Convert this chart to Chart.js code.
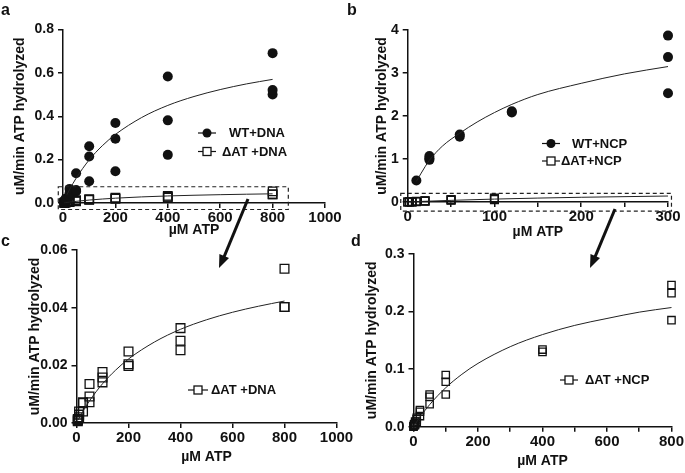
<!DOCTYPE html>
<html>
<head>
<meta charset="utf-8">
<script src="https://cdn.jsdelivr.net/npm/chart.js@4.4.1/dist/chart.umd.min.js"></script>
<style>
  html, body { margin: 0; padding: 0; background: #fff; }
  #fig { position: relative; width: 685px; height: 473px; overflow: hidden; font-family: 'Liberation Sans', Arial, sans-serif; }
  #fig canvas { position: absolute; left: 0; top: 0; }
  .tag { position: absolute; font-weight: bold; font-size: 16px; line-height: 16px; color: #111; }
  #arrows { position: absolute; left: 0; top: 0; }
</style>
</head>
<body>
<div id="fig">
  <canvas id="chartA" width="685" height="473"></canvas>
  <canvas id="chartB" width="685" height="473"></canvas>
  <canvas id="chartC" width="685" height="473"></canvas>
  <canvas id="chartD" width="685" height="473"></canvas>
  <div class="tag" style="left:1px;top:2px">a</div>
  <div class="tag" style="left:347px;top:2px">b</div>
  <div class="tag" style="left:1px;top:233px">c</div>
  <div class="tag" style="left:351px;top:233px">d</div>
  <svg id="arrows" width="685" height="473">
    <line x1="248" y1="199" x2="224" y2="257" stroke="#111" stroke-width="3"/>
    <polygon points="219,268 229,258 219.4,254" fill="#111"/>
    <line x1="615" y1="209" x2="595" y2="257" stroke="#111" stroke-width="3"/>
    <polygon points="590,268 600,258 590.5,254" fill="#111"/>
  </svg>
</div>
<script>
// ATP concentrations (uM), replicate measurements
const dnaConc = [5, 5, 5, 10, 10, 10, 25, 25, 25, 50, 50, 50, 100, 100, 100, 200, 200, 200, 400, 400, 400, 800, 800, 800];
const wtDnaRate = [0.000, 0.005, 0.010, 0.010, 0.015, 0.020, 0.030, 0.045, 0.065, 0.053, 0.060, 0.137, 0.100, 0.214, 0.262, 0.146, 0.296, 0.369, 0.222, 0.381, 0.583, 0.500, 0.521, 0.691];
const datDnaRate = [0.0006, 0.0010, 0.0014, 0.0020, 0.0029, 0.0040, 0.0040, 0.0069, 0.0072, 0.0072, 0.0092, 0.0135, 0.0141, 0.0158, 0.0177, 0.0198, 0.0204, 0.0248, 0.0252, 0.0285, 0.0329, 0.0402, 0.0402, 0.0535];

const wtDnaFitX = [15, 25, 50, 100, 150, 200, 300, 400, 500, 600, 700, 800];
const wtDnaFitY = [0.038, 0.062, 0.114, 0.199, 0.264, 0.316, 0.394, 0.450, 0.491, 0.523, 0.549, 0.570];
const datDnaFitX = [5, 10, 25, 50, 100, 150, 200, 300, 400, 500, 600, 700, 800];
const datDnaFitY = [0.0009, 0.0017, 0.0041, 0.0077, 0.0136, 0.0183, 0.0222, 0.0281, 0.0325, 0.0358, 0.0384, 0.0405, 0.0423];

const wtNcpConc = [10, 25, 25, 25, 60, 60, 120, 120, 300, 300, 300];
const wtNcpRate = [0.50, 0.98, 1.02, 1.07, 1.52, 1.57, 2.08, 2.11, 2.53, 3.37, 3.87];
const wtNcpFitX = [10, 20, 25, 40, 60, 80, 100, 120, 150, 200, 250, 300];
const wtNcpFitY = [0.48, 0.82, 0.97, 1.30, 1.60, 1.86, 2.08, 2.27, 2.50, 2.76, 2.98, 3.15];

const ncpConc = [0, 0, 2, 2, 5, 5, 5, 10, 10, 10, 20, 20, 20, 50, 50, 50, 100, 100, 100, 400, 400, 800, 800, 800];
const datNcpRate = [0.000, 0.001, 0.002, 0.004, 0.003, 0.006, 0.009, 0.0087, 0.0127, 0.0156, 0.0185, 0.026, 0.029, 0.039, 0.052, 0.056, 0.056, 0.078, 0.0898, 0.130, 0.134, 0.185, 0.232, 0.246];
const datNcpFitX = [2, 5, 10, 20, 50, 100, 150, 200, 300, 400, 500, 600, 700, 800];
const datNcpFitY = [0.0018, 0.0043, 0.0085, 0.0166, 0.0383, 0.0677, 0.091, 0.110, 0.139, 0.160, 0.176, 0.188, 0.199, 0.207];

// tick values
const ticksA_x = [0, 200, 400, 600, 800, 1000];
const ticksA_y = [0, 0.2, 0.4, 0.6, 0.8];
const ticksB_x = [0, 50, 100, 150, 200, 250, 300];
const ticksB_y = [0, 1, 2, 3, 4];
const ticksC_x = [0, 200, 400, 600, 800, 1000];
const ticksC_y = [0, 0.02, 0.04, 0.06];
const ticksD_x = [0, 100, 200, 300, 400, 500, 600, 700, 800];
const ticksD_y = [0, 0.1, 0.2, 0.3];

const FONT = "'Liberation Sans', Arial, sans-serif";
const INK = '#111';

function pts(xs, ys, maxX) {
    return xs.map((x, i) => ({ x: x, y: ys[i] })).filter(p => maxX === undefined || p.x <= maxX);
}

function fitLine(xs, ys) {
    return {
        data: pts(xs, ys), showLine: true, pointRadius: 0, borderColor: '#222',
        borderWidth: 1, cubicInterpolationMode: 'monotone', clip: false
    };
}

function dots(data) {
    return {
        data: data, pointStyle: 'circle', pointRadius: 5, pointBackgroundColor: INK,
        pointBorderColor: INK, pointBorderWidth: 0, showLine: false, clip: false
    };
}

function squares(data, r) {
    return {
        data: data, pointStyle: 'rect', pointRadius: r, pointBackgroundColor: 'rgba(0,0,0,0)',
        pointBorderColor: INK, pointBorderWidth: 1.3, showLine: false, clip: false
    };
}

function axis(horizontal, min, max, tickVals, fmt, tickSize) {
    return {
        type: 'linear', min: min, max: max,
        afterBuildTicks: s => { s.ticks = tickVals.map(v => ({ value: v })); },
        grid: { display: true, drawOnChartArea: false, drawTicks: true, tickLength: 5, color: INK, lineWidth: 1.5 },
        border: { display: true, color: INK, width: 1.5 },
        ticks: { color: INK, padding: horizontal ? 1 : 4, autoSkip: false, maxRotation: 0,
                 font: { family: FONT, size: tickSize, weight: 'bold' }, callback: fmt },
        title: { display: true, text: horizontal ? '\u00B5M ATP' : 'uM/min ATP hydrolyzed', color: INK, padding: 0,
                 font: { family: FONT, size: 14, weight: 'bold' } }
    };
}

// dashed zoom rectangle, in data units
const boxPlugin = {
    id: 'zoomBox',
    afterDraw(chart, args, opts) {
        if (!opts || opts.x0 === undefined) return;
        const { ctx, scales: { x, y } } = chart;
        const l = x.getPixelForValue(opts.x0), r = x.getPixelForValue(opts.x1);
        const t = y.getPixelForValue(opts.y1), b = y.getPixelForValue(opts.y0);
        ctx.save();
        ctx.setLineDash([4, 3]);
        ctx.strokeStyle = '#222';
        ctx.lineWidth = 1.2;
        ctx.strokeRect(l, t, r - l, b - t);
        ctx.restore();
    }
};

// hand-placed legend entries
const keyPlugin = {
    id: 'key',
    afterDraw(chart, args, opts) {
        const ctx = chart.ctx;
        ctx.save();
        (opts.items || []).forEach(it => {
            ctx.strokeStyle = INK;
            ctx.lineWidth = 1.2;
            ctx.beginPath();
            ctx.moveTo(it.mx - it.half, it.y);
            ctx.lineTo(it.mx + it.half, it.y);
            ctx.stroke();
            if (it.shape === 'circle') {
                ctx.fillStyle = INK;
                ctx.beginPath();
                ctx.arc(it.mx, it.y, 4.5, 0, Math.PI * 2);
                ctx.fill();
            } else {
                ctx.fillStyle = '#fff';
                ctx.fillRect(it.mx - 4, it.y - 4, 8, 8);
                ctx.lineWidth = 1.3;
                ctx.strokeRect(it.mx - 4, it.y - 4, 8, 8);
            }
            ctx.fillStyle = INK;
            ctx.font = 'bold 13px ' + FONT;
            ctx.textBaseline = 'middle';
            ctx.textAlign = 'left';
            ctx.fillText(it.text, it.tx, it.y + 0.5);
        });
        ctx.restore();
    }
};

// g: chart area + centre of the axis titles (page pixels)
function panel(id, g, datasets, xAxis, yAxis, box, keys) {
    const half = 8.4;
    const yWidth = g.left - (g.yTitleX - half);
    const xHeight = g.xTitleY + half - g.bottom;
    xAxis.afterFit = s => { s.height = xHeight; };
    yAxis.afterFit = s => { s.width = yWidth; };
    new Chart(document.getElementById(id), {
        type: 'scatter',
        data: { datasets: datasets },
        options: {
            responsive: false,
            animation: false,
            events: [],
            layout: {
                padding: {
                    left: g.yTitleX - half,
                    top: g.top,
                    right: 685 - g.right,
                    bottom: 473 - g.xTitleY - half
                }
            },
            scales: { x: xAxis, y: yAxis },
            plugins: {
                legend: { display: false },
                tooltip: { enabled: false },
                zoomBox: box || {},
                key: { items: keys }
            }
        },
        plugins: [boxPlugin, keyPlugin]
    });
}

const fmt1 = v => v.toFixed(1);
const fmt2 = v => v.toFixed(2);
const fmtInt = v => String(v);
const fmtHundreds = v => (v % 100 === 0 ? String(v) : '');
const fmtTwoHundreds = v => (v % 200 === 0 ? String(v) : '');

// a: WT vs dAT with DNA
panel('chartA',
    { left: 63, right: 325, top: 29.5, bottom: 203, yTitleX: 20, xTitleY: 230 },
    [fitLine(wtDnaFitX, wtDnaFitY), fitLine(datDnaFitX, datDnaFitY),
     dots(pts(dnaConc, wtDnaRate)), squares(pts(dnaConc, datDnaRate), 6)],
    axis(true, 0, 1000, ticksA_x, fmtInt, 15),
    axis(false, 0, 0.8, ticksA_y, fmt1, 14),
    { x0: -18, x1: 860, y0: -0.03, y1: 0.075 },
    [{ shape: 'circle', mx: 207, half: 9, y: 133, tx: 229, text: 'WT+DNA' },
     { shape: 'rect', mx: 207, half: 9, y: 151.5, tx: 222, text: '\u0394AT +DNA' }]);

// b: WT vs dAT with nucleosomes
panel('chartB',
    { left: 407.7, right: 668, top: 30, bottom: 202, yTitleX: 381.7, xTitleY: 232 },
    [fitLine(wtNcpFitX, wtNcpFitY), fitLine(datNcpFitX.filter(v => v <= 300), datNcpFitY),
     dots(pts(wtNcpConc, wtNcpRate)), squares(pts(ncpConc, datNcpRate, 300), 5.5)],
    axis(true, 0, 300, ticksB_x, fmtHundreds, 15),
    axis(false, 0, 4, ticksB_y, fmtInt, 14),
    { x0: -8, x1: 304, y0: -0.21, y1: 0.2 },
    [{ shape: 'circle', mx: 551, half: 9, y: 143.5, tx: 572, text: 'WT+NCP' },
     { shape: 'rect', mx: 551, half: 9, y: 161, tx: 561, text: '\u0394AT+NCP' }]);

// c: dAT with DNA, zoomed
panel('chartC',
    { left: 76.5, right: 336.5, top: 250, bottom: 423, yTitleX: 35, xTitleY: 457 },
    [fitLine(datDnaFitX, datDnaFitY), squares(pts(dnaConc, datDnaRate), 6.2)],
    axis(true, 0, 1000, ticksC_x, fmtInt, 15),
    axis(false, 0, 0.06, ticksC_y, fmt2, 14),
    null,
    [{ shape: 'rect', mx: 198, half: 10, y: 390, tx: 211, text: '\u0394AT +DNA' }]);

// d: dAT with nucleosomes, zoomed
panel('chartD',
    { left: 413.5, right: 673, top: 254, bottom: 426.7, yTitleX: 371.7, xTitleY: 461 },
    [fitLine(datNcpFitX, datNcpFitY), squares(pts(ncpConc, datNcpRate), 5.2)],
    axis(true, 0, 800, ticksD_x, fmtTwoHundreds, 15),
    axis(false, 0, 0.3, ticksD_y, fmt1, 14),
    null,
    [{ shape: 'rect', mx: 569, half: 9, y: 380, tx: 585, text: '\u0394AT +NCP' }]);
</script>
</body>
</html>
